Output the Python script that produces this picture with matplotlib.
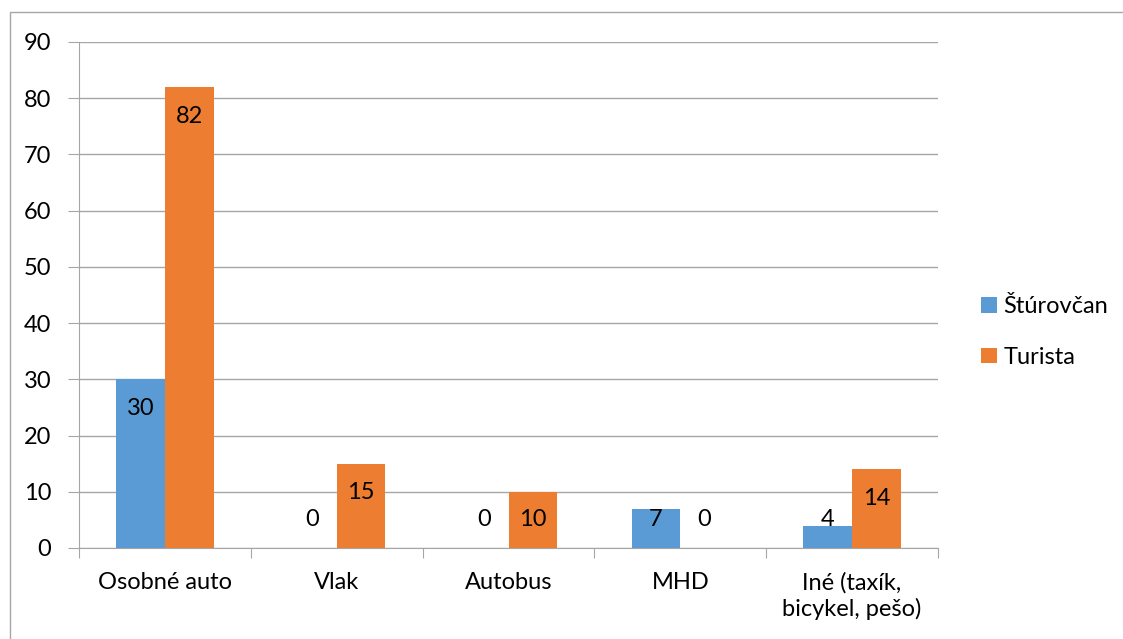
import matplotlib.pyplot as plt
from matplotlib.patches import Rectangle
import numpy as np

plt.rcParams['font.family'] = ['Lato', 'DejaVu Sans']

categories = ['Osobné auto', 'Vlak', 'Autobus', 'MHD', 'Iné (taxík,\nbicykel, pešo)']
sturovcan = [30, 0, 0, 7, 4]
turista = [82, 15, 10, 0, 14]
series_names = ['Štúrovčan', 'Turista']
colors = ['#5B9BD5', '#ED7D31']
grid_color = '#A6A6A6'

fig = plt.figure(figsize=(11.23, 6.39), dpi=100)
# outer chart border
fig.patches.append(Rectangle((10 / 1123, -0.01), 1.2, (639 - 12) / 639 + 0.01,
                             transform=fig.transFigure, fill=False,
                             edgecolor='#A6A6A6', linewidth=1))
ax = fig.add_axes([79 / 1123, 1 - 548 / 639, (938 - 79) / 1123, (548 - 42) / 639])

x = np.arange(len(categories))
w = 0.283
ax.bar(x - w / 2, sturovcan, w, color=colors[0], label=series_names[0])
ax.bar(x + w / 2, turista, w, color=colors[1], label=series_names[1])

# data labels (inside end, kept above the baseline for small bars)
for xs, vals in [(x - w / 2, sturovcan), (x + w / 2, turista)]:
    for xi, v in zip(xs, vals):
        ax.text(xi, max(v - 5.2, 5.0), str(v), ha='center', va='center',
                fontsize=17, color='black')

ax.set_xlim(-0.5, len(categories) - 0.5)
ax.set_ylim(0, 90)
ax.set_yticks(range(0, 91, 10))
ax.yaxis.grid(True, color=grid_color, linewidth=1)
ax.set_axisbelow(True)
for s in ['top', 'right']:
    ax.spines[s].set_visible(False)
ax.spines['left'].set_color(grid_color)
ax.spines['bottom'].set_color(grid_color)

ax.set_xticks(np.arange(-0.5, len(categories)))
ax.set_xticklabels([])
ax.set_xticks(x, minor=True)
ax.set_xticklabels(categories, minor=True, fontsize=17, linespacing=1.25)
ax.tick_params(axis='x', which='major', length=7, color=grid_color, direction='out')
ax.tick_params(axis='x', which='minor', length=0, pad=17)
ax.tick_params(axis='y', length=8, color=grid_color, labelsize=17, pad=12)

fig.legend(*ax.get_legend_handles_labels(), loc='center left',
           bbox_to_anchor=(960 / 1123, 1 - 332 / 639), frameon=False,
           fontsize=17, handlelength=0.65, handleheight=0.65, handletextpad=0.3,
           labelspacing=1.25)

fig.savefig('out.png', dpi=100)
